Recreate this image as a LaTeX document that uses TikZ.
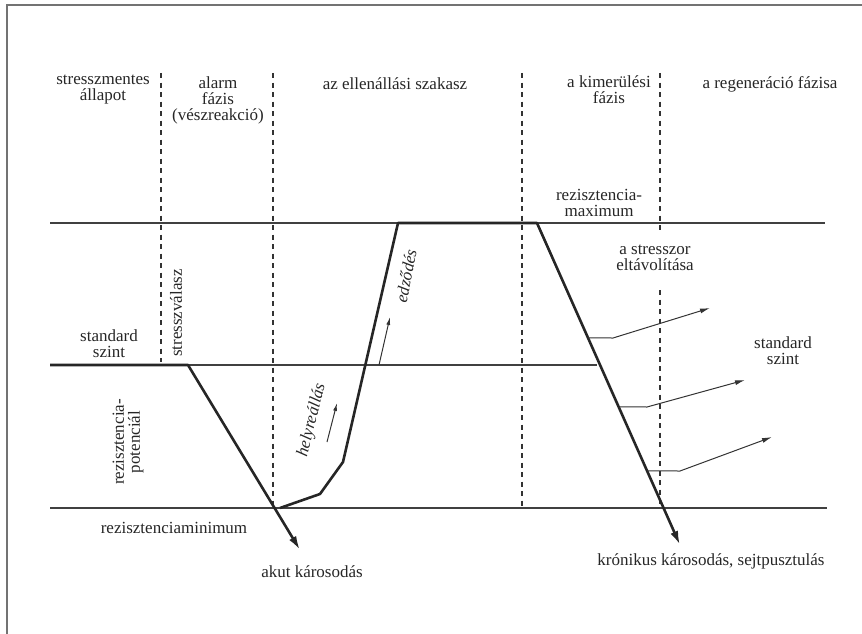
\documentclass[tikz,border=0pt]{standalone}
\usepackage{fontspec}
\setmainfont{Liberation Serif}
\usetikzlibrary{arrows.meta,calc}
\begin{document}
\begin{tikzpicture}[x=1pt,y=-1pt,
  lbl/.style={font=\fontsize{17}{16}\selectfont, align=center, inner sep=0pt, text=black!85},
  ital/.style={lbl, font=\fontsize{17}{16}\selectfont\itshape},
  frameline/.style={draw=black!55, line width=2pt},
  level/.style={draw=black!75, line width=1.2pt},
  phase/.style={draw=black!80, line width=1.1pt, dash pattern=on 5pt off 4.5pt},
  curve/.style={draw=black!85, line width=2.6pt, line join=round},
  bigarrow/.style={curve, -{Latex[length=14pt,width=8pt]}},
  thinarrow/.style={draw=black!80, line width=1pt, -{Latex[length=10pt,width=5pt]}},
  smallarrow/.style={draw=black!80, line width=1pt, -{Latex[length=8pt,width=4pt]}}]
\useasboundingbox (0,0) rectangle (862,634);
% frame
\coordinate (fbl) at (7,634);
\coordinate (ftl) at (7,5);
\coordinate (ftr) at (862,5);
\draw[frameline] (fbl) -- (ftl) -- (ftr);
% level lines
\coordinate (maxL) at (50,223);
\coordinate (maxR) at (825,223);
\coordinate (minL) at (50,508);
\coordinate (minR) at (827,508);
\coordinate (stdR) at (597,365);
\draw[level] (maxL) -- (maxR);
\draw[level] (minL) -- (minR);
% phase separators
\coordinate (d1t) at (161,73); \coordinate (d1b) at (161,362);
\coordinate (d2t) at (273,73); \coordinate (d2b) at (273,508);
\coordinate (d3t) at (522,73); \coordinate (d3b) at (522,508);
\coordinate (d4t) at (660,73); \coordinate (d4m) at (660,230);
\coordinate (d4n) at (660,290); \coordinate (d4b) at (660,508);
\draw[phase] (d1t) -- (d1b);
\draw[phase] (d2t) -- (d2b);
\draw[phase] (d3t) -- (d3b);
\draw[phase] (d4t) -- (d4m);
\draw[phase] (d4n) -- (d4b);
% trajectory
\coordinate (s0) at (50,365);
\coordinate (s1) at (188,365);
\coordinate (acute) at (300,550);
\coordinate (r0) at (280,508);
\coordinate (r1) at (320,494);
\coordinate (r2) at (343,462);
\coordinate (r3) at (398,223);
\coordinate (r4) at (537,223);
\coordinate (chron) at (680,545);
\draw[level] (s1) -- (stdR);
\draw[bigarrow] (s0) -- (s1) -- (acute);
\draw[bigarrow] (r0) -- (r1) -- (r2) -- (r3) -- (r4) -- (chron);
% small arrows along the recovery
\coordinate (h0) at (327,442); \coordinate (h1) at (337,403);
\coordinate (e0) at (379,365); \coordinate (e1) at (390,317);
\draw[smallarrow] (h0) -- (h1);
\draw[smallarrow] (e0) -- (e1);
% removal of stressor arrows
\coordinate (a1) at ($(r4)!0.357!(chron)$);
\coordinate (a2) at ($(r4)!0.571!(chron)$);
\coordinate (a3) at ($(r4)!0.770!(chron)$);
\coordinate (a1k) at (613,338); \coordinate (a1e) at (710,308);
\coordinate (a2k) at (647,407); \coordinate (a2e) at (745,380);
\coordinate (a3k) at (680,471); \coordinate (a3e) at (772,437);
\draw[thinarrow] (a1) -- (a1k) -- (a1e);
\draw[thinarrow] (a2) -- (a2k) -- (a2e);
\draw[thinarrow] (a3) -- (a3k) -- (a3e);
% header labels
\node[lbl] (p1) at (103,90) {stresszmentes\\állapot};
\node[lbl] (p2) at (218,100) {alarm\\fázis\\(vészreakció)};
\node[lbl] (p3) at (395,84) {az ellenállási szakasz};
\node[lbl] (p4) at (609,90) {a kimerülési\\fázis};
\node[lbl] (p5) at (770,84) {a regeneráció fázisa};
% other labels
\node[lbl] (rmax) at (599,203) {rezisztencia-\\maximum};
\node[lbl] (rem) at (655,258) {a stresszor\\eltávolítása};
\node[lbl] (stdr) at (783,351) {standard\\szint};
\node[lbl] (stdl) at (109,344) {standard\\szint};
\node[lbl, rotate=90] (sv) at (176,313) {stresszválasz};
\node[lbl, rotate=90] (rpot) at (128,442) {rezisztencia-\\potenciál};
\node[ital, rotate=76] (hely) at (312,420) {helyreállás};
\node[ital, rotate=79] (edz) at (406,276) {edződés};
\node[lbl] (rmin) at (174,528) {rezisztenciaminimum};
\node[lbl] (akut) at (312,572) {akut károsodás};
\node[lbl] (kron) at (711,561) {krónikus károsodás, sejtpusztulás};
\end{tikzpicture}
\end{document}
